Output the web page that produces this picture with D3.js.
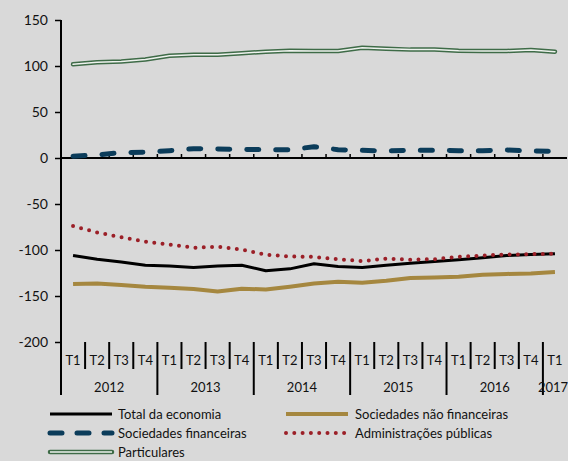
<!DOCTYPE html>
<html>
<head>
<meta charset="utf-8">
<script src="https://cdn.jsdelivr.net/npm/d3@7"></script>
<style>
  body { margin: 0; background: #d9d9d9; }
  text { font-family: Lato, "Noto Sans", sans-serif; fill: #111; }
</style>
</head>
<body>
<div id="container"></div>
<script>
// quarters and years
const years = ['2012', '2013', '2014', '2015', '2016', '2017'];
const quarters = [];
years.forEach(y => ['T1', 'T2', 'T3', 'T4'].forEach(q => {
    if (y !== '2017' || q === 'T1') quarters.push(y + ' ' + q);
}));

// series values
const totalEconomia = [-106, -110, -113, -116.5, -117.5, -119, -117.5, -116.5, -122.5, -120.5, -115, -118, -119, -116.5, -114.5, -112.5, -110.5, -108.5, -106, -105, -104];
const socNaoFin = [-137, -136.5, -138, -140, -141, -142.5, -145, -142, -143, -140, -136.5, -134.5, -135.5, -133.5, -130.5, -130, -129, -127, -126, -125.5, -124];
const socFin = [2, 3.3, 5.8, 6.2, 8, 10.1, 9.8, 9.4, 9, 9, 12.3, 9, 8.3, 7.6, 8.3, 8.3, 8, 8, 8.7, 7.6, 7.2];
const adminPub = [-74, -81, -86, -91, -94, -97.5, -96.5, -99.5, -105, -107, -107.5, -110, -112, -109.5, -110.5, -110, -107.5, -106, -105, -104.5, -104];
const particulares = [101.8, 104, 105, 107, 111.2, 112.3, 112.3, 113.8, 115.6, 116.7, 116.3, 116.3, 119.9, 118.8, 117.8, 118, 116.7, 116.3, 116.3, 117.4, 115.6];
const yTicks = [150, 100, 50, 0, -50, -100, -150, -200];

// chart dimensions
const w = 568;
const h = 461;
const left = 61;
const right = 567;

const xScale = d3.scaleBand()
    .domain(quarters)
    .range([left, right]);

const yScale = d3.scaleLinear()
    .domain([-200, 150])
    .range([342, 20]);

const svg = d3.select('#container')
    .append('svg')
    .attr('width', w)
    .attr('height', h);

// y axis (plain hyphen for negatives, as in the original)
const yAxis = d3.axisLeft(yScale).tickValues(yTicks).tickSize(6).tickSizeOuter(0)
    .tickFormat(d => String(d));
const gy = svg.append('g')
    .attr('transform', `translate(${left}, 0)`)
    .call(yAxis);
gy.select('.domain').remove();
gy.selectAll('line').attr('stroke', '#000').attr('stroke-width', 1.5);
gy.selectAll('text').attr('font-size', 14).attr('x', -13).attr('fill', '#111')
    .style('font-family', 'Lato, "Noto Sans", sans-serif');

svg.append('line')
    .attr('x1', left).attr('x2', left)
    .attr('y1', yScale(150)).attr('y2', 395)
    .attr('stroke', '#000').attr('stroke-width', 2);

// zero line with ticks pointing up
svg.append('line')
    .attr('x1', left).attr('x2', right)
    .attr('y1', yScale(0)).attr('y2', yScale(0))
    .attr('stroke', '#000').attr('stroke-width', 2);
svg.append('g').selectAll('line')
    .data(quarters.slice(1))
    .join('line')
    .attr('x1', d => xScale(d)).attr('x2', d => xScale(d))
    .attr('y1', yScale(0)).attr('y2', yScale(0) - 4)
    .attr('stroke', '#000').attr('stroke-width', 1.5);

// category labels at bottom
const catTop = yScale(-200);
svg.append('g').selectAll('line')
    .data(quarters.slice(1))
    .join('line')
    .attr('x1', d => xScale(d)).attr('x2', d => xScale(d))
    .attr('y1', catTop)
    .attr('y2', d => d.endsWith('T1') ? 395 : 369)
    .attr('stroke', '#000').attr('stroke-width', 2);

svg.append('g').selectAll('text')
    .data(quarters)
    .join('text')
    .attr('x', d => xScale(d) + xScale.bandwidth() / 2)
    .attr('y', 365)
    .attr('text-anchor', 'middle')
    .attr('font-size', 13)
    .text(d => d.split(' ')[1]);

svg.append('g').selectAll('text')
    .data(years)
    .join('text')
    .attr('x', y => {
        const qs = quarters.filter(q => q.startsWith(y));
        const c = (xScale(qs[0]) + xScale(qs[qs.length - 1]) + xScale.bandwidth()) / 2;
        return Math.min(c, w - 15);
    })
    .attr('y', 392)
    .attr('text-anchor', 'middle')
    .attr('font-size', 13)
    .text(d => d);

// lines
const line = d3.line()
    .x((d, i) => xScale(quarters[i]) + xScale.bandwidth() / 2)
    .y(d => yScale(d));

const series = [
    { name: 'Total da economia', values: totalEconomia, color: '#000', width: 3, dash: null },
    { name: 'Sociedades não financeiras', values: socNaoFin, color: '#a5873f', width: 4, dash: null },
    { name: 'Sociedades financeiras', values: socFin, color: '#0b3c5a', width: 5, dash: '12 17' },
    { name: 'Administrações públicas', values: adminPub, color: '#9b1f27', width: 4, dash: '0 8.3' },
    { name: 'Particulares', values: particulares, color: '#3e6b47', width: 4.5, dash: null, inner: '#eef2ee' }
];

series.forEach(s => {
    const p = svg.append('path')
        .attr('d', line(s.values))
        .attr('fill', 'none')
        .attr('stroke', s.color)
        .attr('stroke-width', s.width)
        .attr('stroke-linecap', s.dash ? 'round' : 'butt')
        .attr('stroke-linejoin', 'round');
    if (s.dash) p.attr('stroke-dasharray', s.dash);
    if (s.inner) {
        p.attr('stroke-linecap', 'round');
        svg.append('path')
            .attr('d', line(s.values))
            .attr('fill', 'none')
            .attr('stroke', s.inner)
            .attr('stroke-width', 1.5)
            .attr('stroke-linecap', 'round')
            .attr('stroke-linejoin', 'round');
    }
});

// legend
const legendPos = [
    [48, 414], [48, 433], [48, 452], [284, 414], [284, 433]
];
const legendOrder = [0, 2, 4, 1, 3];
legendOrder.forEach((si, k) => {
    const s = series[si];
    const [lx, ly] = legendPos[k];
    const g = svg.append('g');
    const l = g.append('line')
        .attr('x1', lx + 2).attr('x2', lx + 64)
        .attr('y1', ly).attr('y2', ly)
        .attr('stroke', s.color)
        .attr('stroke-width', s.width)
        .attr('stroke-linecap', s.dash ? 'round' : 'butt');
    if (s.dash) l.attr('stroke-dasharray', s.dash === '12 17' ? '12 15' : s.dash);
    if (s.inner) {
        l.attr('stroke-linecap', 'round');
        g.append('line')
            .attr('x1', lx + 2).attr('x2', lx + 64)
            .attr('y1', ly).attr('y2', ly)
            .attr('stroke', s.inner).attr('stroke-width', 1.5);
    }
    g.append('text')
        .attr('x', si === 0 || si === 2 || si === 4 ? lx + 70 : lx + 71)
        .attr('y', ly + 4.5)
        .attr('font-size', 13)
        .text(s.name);
});
</script>
</body>
</html>
